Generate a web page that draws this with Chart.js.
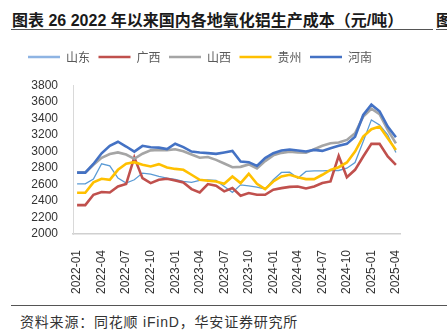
<!DOCTYPE html>
<html>
<head>
<meta charset="utf-8">
<script src="https://cdn.jsdelivr.net/npm/chart.js@4.4.0/dist/chart.umd.min.js"></script>
<style>
  body { margin: 0; background: #fff; width: 447px; height: 335px; position: relative; overflow: hidden;
         font-family: "Liberation Sans", "Noto Sans CJK SC", sans-serif; }
  #title { position: absolute; left: 12px; top: 7px; font-size: 16px; font-weight: bold; color: #1a1a1a; white-space: nowrap; }
  #title2 { position: absolute; left: 436px; top: 7px; font-size: 16px; font-weight: bold; color: #1a1a1a; }
  .rule { position: absolute; height: 1px; background: #555; }
  #wrap { position: absolute; left: 0; top: 35px; width: 447px; height: 265px; }
  #src { position: absolute; left: 20px; top: 311px; font-size: 14px; letter-spacing: 0.8px; color: #333; white-space: nowrap; }
</style>
</head>
<body>
<div id="title">图表 26 2022 年以来国内各地氧化铝生产成本（元/吨）</div>
<div id="title2">图</div>
<div class="rule" style="left:11px;top:29px;width:422px"></div>
<div class="rule" style="left:436px;top:29px;width:11px"></div>
<div id="wrap"><canvas id="chart"></canvas></div>
<div class="rule" style="left:11px;top:305px;width:436px"></div>
<div id="src">资料来源：同花顺 iFinD，华安证券研究所</div>

<script>
// 月份（2022-01 到 2025-04）
const months = [
  "2022-01", "2022-02", "2022-03", "2022-04", "2022-05", "2022-06", "2022-07", "2022-08", "2022-09", "2022-10", "2022-11", "2022-12",
  "2023-01", "2023-02", "2023-03", "2023-04", "2023-05", "2023-06", "2023-07", "2023-08", "2023-09", "2023-10", "2023-11", "2023-12",
  "2024-01", "2024-02", "2024-03", "2024-04", "2024-05", "2024-06", "2024-07", "2024-08", "2024-09", "2024-10", "2024-11", "2024-12",
  "2025-01", "2025-02", "2025-03", "2025-04"
];
// 只显示每季度的刻度
const xTickLabels = ["2022-01", "2022-04", "2022-07", "2022-10", "2023-01", "2023-04", "2023-07", "2023-10",
                     "2024-01", "2024-04", "2024-07", "2024-10", "2025-01", "2025-04"];
const seriesNames = ["山东", "广西", "山西", "贵州", "河南"];

// 各地成本（元/吨）
const shandong = [2608, 2608, 2666, 2852, 2828, 2678, 2618, 2658, 2739, 2727, 2698, 2678,
                  2662, 2638, 2626, 2650, 2658, 2650, 2577, 2505, 2597, 2585, 2569, 2545,
                  2658, 2747, 2751, 2678, 2759, 2767, 2767, 2771, 2771, 2799, 2868, 3122,
                  3385, 3324, 3203, 2989];
const guangxi = [2350, 2350, 2476, 2509, 2504, 2577, 2606, 2930, 2678, 2618, 2658, 2670,
                 2650, 2626, 2545, 2505, 2606, 2585, 2517, 2557, 2464, 2497, 2476, 2476,
                 2537, 2557, 2572, 2577, 2553, 2577, 2618, 2638, 2949, 2690, 2779, 2941,
                 3094, 3094, 2941, 2840];
const shanxi = [2745, 2745, 2840, 2925, 2970, 2990, 2965, 2912, 2975, 3015, 3020, 3018,
                3028, 3005, 2965, 2925, 2935, 2900, 2855, 2810, 2815, 2845, 2797, 2885,
                2955, 2985, 2998, 2990, 2988, 3029, 3070, 3102, 3110, 3142, 3223, 3425,
                3520, 3455, 3264, 3100];
const guizhou = [2500, 2500, 2626, 2670, 2658, 2779, 2852, 2872, 2840, 2819, 2848, 2807,
                 2790, 2779, 2719, 2658, 2646, 2638, 2610, 2698, 2618, 2731, 2610, 2545,
                 2638, 2698, 2719, 2690, 2666, 2666, 2719, 2779, 2811, 2868, 3001, 3183,
                 3272, 3304, 3163, 3021];
const henan = [2745, 2745, 2850, 2980, 3070, 3120, 3062, 3000, 3070, 3052, 3048, 3030,
               3095, 3055, 3001, 2990, 2982, 2973, 2990, 3009, 2880, 2872, 2825, 2922,
               2981, 3013, 3025, 3013, 3001, 3021, 3009, 3042, 3070, 3094, 3180, 3445,
               3570, 3490, 3304, 3175];

const yMin = 2000, yMax = 3800, yStep = 200;

const colors = ["#5b9bd5", "#c0504d", "#a5a5a5", "#ffc000", "#4472c4"];
const legendColors = ["#8eb4e3", "#c0504d", "#a5a5a5", "#ffc000", "#4472c4"];
const widths = [1.3, 2.6, 2.6, 2.6, 2.6];
const allData = [shandong, guangxi, shanxi, guizhou, henan];

// Abstand zwischen Legende und Zeichenfläche vergrößern
const legendGap = {
  id: "legendGap",
  beforeLayout(chart) {
    const lg = chart.legend;
    if (lg && !lg._gapPatched) {
      const fit = lg.fit;
      lg.fit = function () { fit.call(this); this.height += 12.7; };
      lg._gapPatched = true;
    }
  }
};

new Chart(document.getElementById("chart"), {
  type: "line",
  data: {
    labels: months,
    datasets: allData.map((d, i) => ({
      label: seriesNames[i],
      data: d,
      borderColor: colors[i],
      backgroundColor: colors[i],
      borderWidth: widths[i],
      pointRadius: 0,
      tension: 0,
      order: allData.length - i
    }))
  },
  options: {
    responsive: true,
    maintainAspectRatio: false,
    animation: false,
    layout: { padding: { top: 7.5, right: 47, left: 0, bottom: 0 } },
    plugins: {
      tooltip: { enabled: false },
      legend: {
        position: "top",
        labels: {
          usePointStyle: true,
          pointStyle: "line",
          pointStyleWidth: 32,
          padding: 8.5,
          color: "#595959",
          font: { family: "Noto Sans CJK SC", size: 12 },
          sort: (a, b) => a.datasetIndex - b.datasetIndex,
          generateLabels: (chart) =>
            Chart.defaults.plugins.legend.labels.generateLabels(chart).map((l) => ({
              ...l,
              lineWidth: 2.6,
              strokeStyle: legendColors[l.datasetIndex]
            }))
        }
      }
    },
    scales: {
      x: {
        offset: true,
        grid: { display: false },
        border: { display: true, color: "#d0d0d0", width: 1.5 },
        afterFit: (s) => { s.height = 66; },
        ticks: {
          autoSkip: false,
          maxRotation: 90,
          minRotation: 90,
          padding: 8,
          color: "#333",
          font: { family: "Liberation Sans", size: 12 },
          callback: function (v, i) {
            const lab = months[i];
            return xTickLabels.includes(lab) ? lab : "";
          }
        }
      },
      y: {
        min: yMin,
        max: yMax,
        grid: { display: false, drawTicks: false },
        border: { display: true, color: "#d9d9d9", width: 1 },
        afterFit: (s) => { s.width = 73; },
        ticks: {
          stepSize: yStep,
          autoSkip: false,
          padding: 15,
          color: "#333",
          font: { family: "Liberation Sans", size: 12 },
          callback: (v) => String(v)
        }
      }
    }
  },
  plugins: [legendGap]
});
</script>
</body>
</html>
